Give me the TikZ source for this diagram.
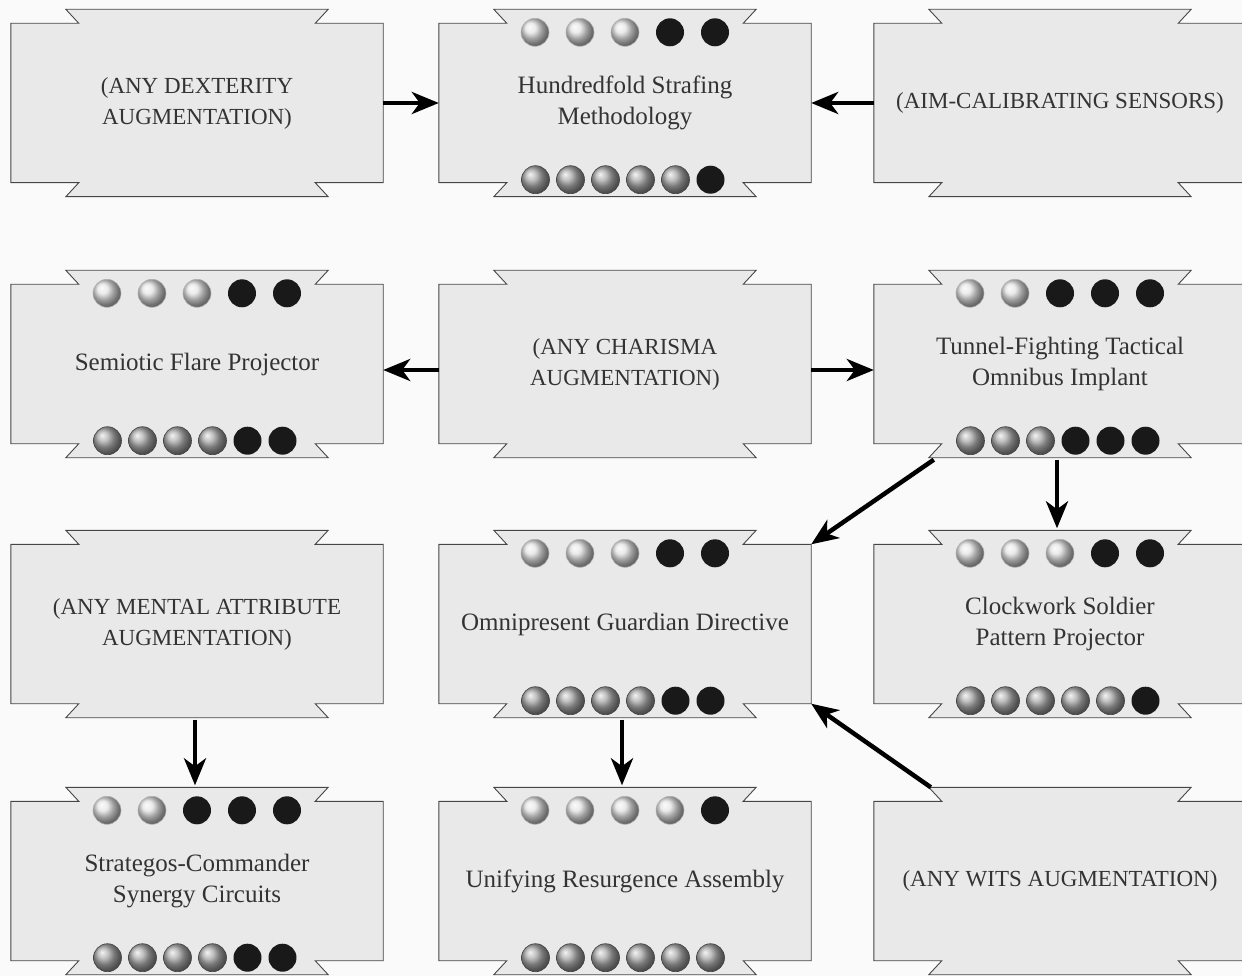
\documentclass[tikz,border=0pt]{standalone}
\usepackage{fontspec}
\setmainfont{Liberation Serif}
\usetikzlibrary{arrows.meta,backgrounds}

\tikzset{
  card/.style={minimum width=372pt, minimum height=159pt, inner sep=0pt,
    align=center, text=black!80, font=\fontsize{25}{31}\selectfont},
  prereq/.style={card, font=\fontsize{23}{31}\selectfont},
  cardshape/.style={fill=gray!17, draw=gray!55!black, line width=0.9pt},
  link/.style={line width=4.5pt, -{Stealth[length=27pt,width=22pt,inset=8pt]}},
  emptydot/.style={shading=ball, ball color=gray!22, draw=gray!60, line width=0.6pt},
  filldot/.style={shading=ball, ball color=gray!65, draw=gray!50!black, line width=0.6pt},
  blackdot/.style={fill=black!90},
}

\begin{document}
\begin{tikzpicture}[x=1pt, y=-1pt]
    % Colore di fondo della pagina
    \def\bgcol{gray!4}
    \useasboundingbox (0,0) rectangle (1242,976);
    \begin{scope}[on background layer]
        \fill[\bgcol] (0,0) rectangle (1242,976);
    \end{scope}

    % Riga 1
    \node[prereq] (dex) at (197,103) {(ANY DEXTERITY\\AUGMENTATION)};
    \node[card] (hundred) at (625,103) {Hundredfold Strafing\\Methodology};
    \node[prereq] (aim) at (1060,103) {(AIM-CALIBRATING SENSORS)};

    % Riga 2
    \node[card] (semiotic) at (197,364) {Semiotic Flare Projector};
    \node[prereq] (charisma) at (625,364) {(ANY CHARISMA\\AUGMENTATION)};
    \node[card] (tunnel) at (1060,364) {Tunnel-Fighting Tactical\\Omnibus Implant};

    % Riga 3
    \node[prereq] (mental) at (197,624) {(ANY MENTAL ATTRIBUTE\\AUGMENTATION)};
    \node[card] (omni) at (625,624) {Omnipresent Guardian Directive};
    \node[card] (clock) at (1060,624) {Clockwork Soldier\\Pattern Projector};

    % Riga 4
    \node[card] (strat) at (197,881) {Strategos-Commander\\Synergy Circuits};
    \node[card] (unify) at (625,881) {Unifying Resurgence Assembly};
    \node[prereq] (wits) at (1060,881) {(ANY WITS AUGMENTATION)};

    % Sagoma delle schede (rettangolo con linguette sopra e sotto)
    \begin{scope}[on background layer]
        \foreach \n in {dex,hundred,aim,semiotic,charisma,tunnel,mental,omni,clock,strat,unify,wits}
            \filldraw[cardshape] (\n.north west) -- ++(68,0) -- ++(-13,-14)
                -- ([shift={(-55,-14)}]\n.north east) -- ++(-13,14) -- (\n.north east)
                -- (\n.south east) -- ++(-68,0) -- ++(13,14)
                -- ([shift={(55,14)}]\n.south west) -- ++(13,-14) -- (\n.south west) -- cycle;
    \end{scope}

    % Pallini: chiari sopra (su 5), grigi sotto (su 6), il resto neri
    \foreach \n/\l/\g in {hundred/3/5, semiotic/3/4, tunnel/2/3, omni/3/4,
                          clock/3/5, strat/2/4, unify/4/6} {
        \foreach \i in {1,...,5} {
            \ifnum\i>\l\relax \def\st{blackdot}\else\def\st{emptydot}\fi
            \path[\st] ([xshift={(\i-3)*45pt}, yshift=-9pt]\n.north) circle (14);
        }
        \foreach \i in {1,...,6} {
            \ifnum\i>\g\relax \def\st{blackdot}\else\def\st{filldot}\fi
            \path[\st] ([xshift={(\i-3.5)*35pt-2pt}, yshift=3pt]\n.south) circle (14);
        }
    }

    % Frecce dei prerequisiti
    \draw[link] (dex) -- (hundred);
    \draw[link] (aim) -- (hundred);
    \draw[link] ([yshift=-6pt]charisma.west) -- ([yshift=-6pt]semiotic.east);
    \draw[link] ([yshift=-6pt]charisma.east) -- ([yshift=-6pt]tunnel.west);
    \draw[link] ([shift={(60,16)}]tunnel.south west) -- (omni.north east);
    \draw[link] ([shift={(-3,16)}]tunnel.south) -- ([shift={(-3,-16)}]clock.north);
    \draw[link] ([shift={(-2,16)}]mental.south) -- ([shift={(-2,-16)}]strat.north);
    \draw[link] ([shift={(-3,16)}]omni.south) -- ([shift={(-3,-16)}]unify.north);
    \draw[link] ([shift={(57,-14)}]wits.north west) -- (omni.south east);

\end{tikzpicture}
\end{document}
